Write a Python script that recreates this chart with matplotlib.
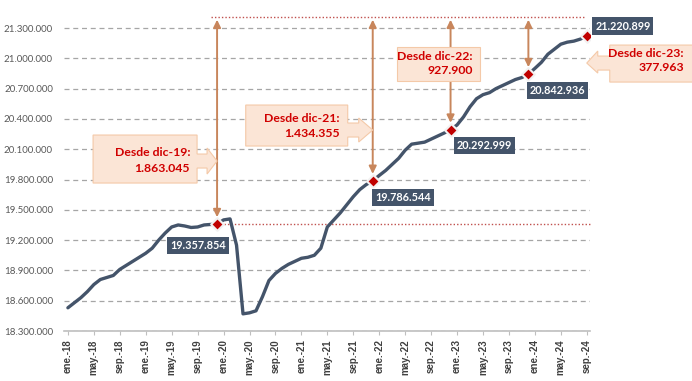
import matplotlib.pyplot as plt
import matplotlib.transforms as mtransforms
from matplotlib.patches import Polygon
import numpy as np

plt.rcParams['font.family'] = ['Lato', 'DejaVu Sans']

# meses ene-18 .. sep-24
nombres_mes = ['ene', 'feb', 'mar', 'abr', 'may', 'jun',
               'jul', 'ago', 'sep', 'oct', 'nov', 'dic']
meses = [f"{m}.-{a}" for a in range(18, 25) for m in nombres_mes][:81]

# afiliados (millones)
afiliados_m = [
    18.53, 18.58, 18.63, 18.69, 18.76, 18.81, 18.83, 18.85, 18.91, 18.95, 18.99, 19.03,
    19.07, 19.12, 19.20, 19.27, 19.33, 19.35, 19.34, 19.325, 19.33, 19.35, 19.355, 19.357854,
    19.40, 19.41, 19.15, 18.47, 18.48, 18.50, 18.64, 18.80, 18.87, 18.92, 18.96, 18.99,
    19.02, 19.03, 19.05, 19.12, 19.33, 19.40, 19.47, 19.55, 19.63, 19.70, 19.75, 19.786544,
    19.84, 19.89, 19.95, 20.01, 20.09, 20.15, 20.16, 20.17, 20.20, 20.23, 20.26, 20.292999,
    20.34, 20.42, 20.52, 20.60, 20.64, 20.66, 20.70, 20.73, 20.76, 20.79, 20.81, 20.842936,
    20.90, 20.96, 21.04, 21.09, 21.14, 21.16, 21.17, 21.19, 21.220899,
]
afiliados = [round(v * 1e6) for v in afiliados_m]

hitos = ['dic.-19', 'dic.-21', 'dic.-22', 'dic.-23', 'sep.-24']
desde = ['dic-19', 'dic-21', 'dic-22', 'dic-23']
diferencias = [1_863_045, 1_434_355, 927_900, 377_963]
ref_top = 21_410_000

yticks = np.arange(18_300_000, 21_300_001, 300_000)


def miles(v):
    return f"{v:,.0f}".replace(',', '.')


fig = plt.figure(figsize=(6.92, 3.81), dpi=100)
ax = fig.add_axes([0.0925, 0.1312, 0.7601, 0.8748])

x = np.arange(len(meses))
ax.plot(x, afiliados, color='#44546A', lw=2.4, solid_joinstyle='round',
        solid_capstyle='round', zorder=3)

ax.set_xlim(-0.6, 80.5)
ax.set_ylim(18_300_000, 21_600_000)
ax.set_yticks(yticks)
ax.set_yticklabels([miles(v) for v in yticks], fontsize=7, color='#595959')
ax.set_xticks(x[::4])
ax.set_xticklabels(meses[::4], rotation=90, fontsize=7, fontweight='bold',
                   color='#404040', family=['Liberation Sans', 'DejaVu Sans'])
ax.tick_params(axis='y', length=0, pad=8)
ax.tick_params(axis='x', length=3, color='#BFBFBF', pad=3)
ax.yaxis.grid(True, linestyle=(0, (4, 3)), color='#A6A6A6', lw=0.9)
ax.set_axisbelow(True)
for s in ['left', 'top', 'right']:
    ax.spines[s].set_visible(False)
ax.spines['bottom'].set_color('#BFBFBF')
ax.spines['bottom'].set_linewidth(1.2)

idx = [meses.index(h) for h in hitos]
vals = [afiliados[i] for i in idx]

# lineas de referencia
ax.plot([idx[0], x[-1] + 0.5], [vals[0], vals[0]], color='#C0504D', lw=1,
        ls=(0, (1, 1.5)), zorder=2, clip_on=False)
ax.plot([idx[0] - 1, x[-1] - 0.3], [ref_top, ref_top], color='#C0504D', lw=1,
        ls=(0, (1, 1.5)), zorder=2, clip_on=False)

# flechas verticales
for i, v in zip(idx[:4], vals[:4]):
    ax.annotate('', xy=(i, ref_top), xytext=(i, v),
                arrowprops=dict(arrowstyle='<|-|>,head_length=0.45,head_width=0.22',
                                color='#C8865C', lw=1.4, shrinkA=5, shrinkB=2),
                zorder=4, annotation_clip=False)

ax.scatter(idx, vals, marker='D', s=42, color='#C00000', edgecolor='#F2F2F2',
           linewidth=1.5, zorder=6)

# etiquetas de valor
offs = [(-19, -21), (30, -17), (34, -16), (29, -16), (36, 10)]
for i, v, (dx, dy) in zip(idx, vals, offs):
    ax.annotate(miles(v), xy=(i, v), xytext=(dx, dy), textcoords='offset pixels',
                ha='center', va='center', fontsize=7.8, fontweight='bold', color='white',
                bbox=dict(boxstyle='square,pad=0.28', fc='#44546A', ec='none'),
                zorder=7, annotation_clip=False)


def caja(xd, yd, verts):
    tr = fig.dpi_scale_trans + mtransforms.ScaledTranslation(xd, yd, ax.transData)
    p = Polygon(np.array(verts) / 100.0, closed=True, transform=tr, fc='#FBE5D6',
                ec='#F4C9A8', lw=0.8, zorder=8, clip_on=False)
    ax.add_patch(p)


def textos(xd, yd, dx, dys, lineas):
    for dy, t in zip(dys, lineas):
        ax.annotate(t, xy=(xd, yd), xytext=(dx, dy), textcoords='offset pixels',
                    ha='right', va='center', fontsize=8.8, fontweight='bold',
                    color='#D00000', zorder=9, annotation_clip=False)


def flecha_der(l, r, t, b, base, hh, sh):
    return [(l, t), (r, t), (r, sh), (base, sh), (base, hh), (0, 0),
            (base, -hh), (base, -sh), (r, -sh), (r, b), (l, b)]


lineas = [[f"Desde {d}:", miles(n)] for d, n in zip(desde, diferencias)]

# dic-19
caja(idx[0], 19_983_000, flecha_der(-124, -20, 26, -22, -10, 13, 7))
textos(idx[0], 19_983_000, -27, [9, -7], lineas[0])
# dic-21
caja(idx[1], 20_290_000, flecha_der(-127, -25, 25, -16, -14, 12, 7))
textos(idx[1], 20_290_000, -33, [12, -3], lineas[1])
# dic-22
caja(idx[2], 20_944_000, [(-54, 17), (29, 17), (29, -17), (-54, -17)])
textos(idx[2], 20_944_000, 22, [7, -7], lineas[2])
# dic-23 (apunta a la izquierda)
caja(idx[4], 20_953_000, [(0, 0), (11, 12), (11, 7), (23, 7), (23, 18), (130, 18),
                          (130, -19), (23, -19), (23, -7), (11, -7), (11, -10)])
textos(idx[4], 20_953_000, 97, [10, -4], lineas[3])

fig.savefig('out.png', dpi=100)
